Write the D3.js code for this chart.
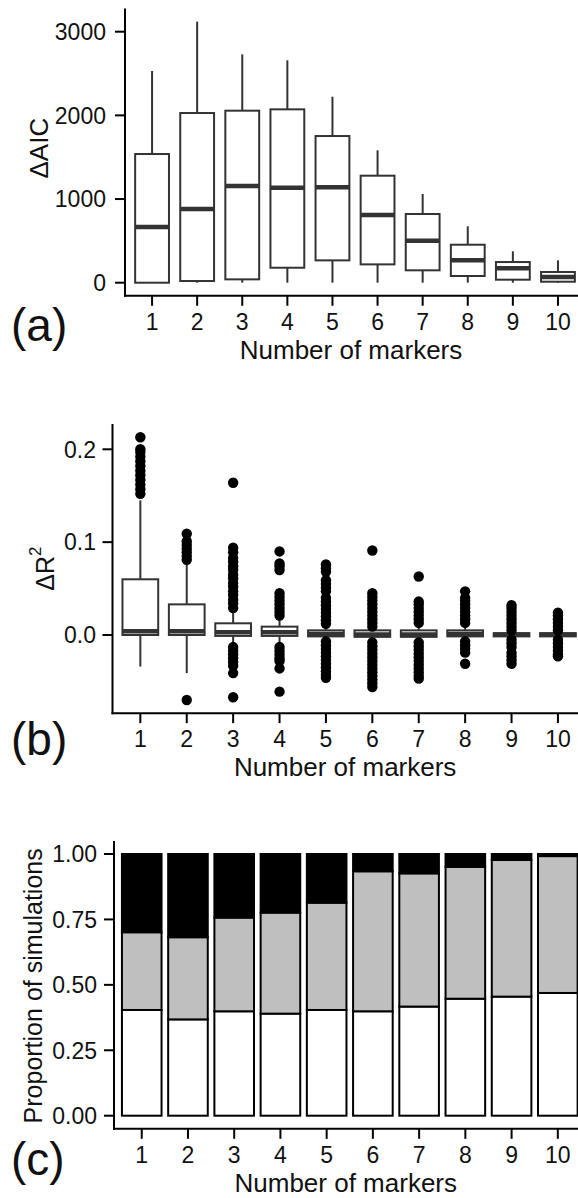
<!DOCTYPE html>
<html>
<head>
<meta charset="utf-8">
<script src="https://cdn.jsdelivr.net/npm/d3@7"></script>
<style>
  html, body { margin: 0; padding: 0; background: #fff; }
  svg { display: block; }
  text { font-family: "Liberation Sans", Arial, Helvetica, sans-serif; fill: #111; }
</style>
</head>
<body>
<svg id="fig" width="578" height="1198"></svg>
<script>
// ---- data ----
const categories = ["1", "2", "3", "4", "5", "6", "7", "8", "9", "10"];

// (a) delta AIC box statistics
const aicLow    = [0, 0, 0, 0, 0, 0, 0, 0, 0, 0];
const aicQ1     = [0, 20, 40, 179, 267, 219, 148, 80, 36, 12];
const aicMedian = [666, 881, 1156, 1135, 1140, 809, 502, 267, 172, 68];
const aicQ3     = [1538, 2028, 2056, 2072, 1753, 1279, 821, 454, 247, 128];
const aicHigh   = [2530, 3120, 2729, 2658, 2223, 1582, 1060, 674, 375, 267];
const aicTicks  = [0, 1000, 2000, 3000];

// (b) delta R^2 box statistics
const r2Low    = [-0.034, -0.041, -0.011, -0.011, -0.006, -0.006, -0.006, -0.005, -0.004, -0.003];
const r2Q1     = [0.000, 0.000, -0.001, -0.001, -0.0015, -0.002, -0.002, -0.0015, -0.0015, -0.0015];
const r2Median = [0.004, 0.004, 0.003, 0.003, 0.001, 0.0005, 0.0005, 0.001, 0.0003, 0.0003];
const r2Q3     = [0.060, 0.033, 0.0126, 0.009, 0.005, 0.005, 0.005, 0.005, 0.002, 0.002];
const r2High   = [0.145, 0.078, 0.027, 0.018, 0.010, 0.008, 0.010, 0.010, 0.004, 0.004];
const r2Outliers = [
  [0.152, 0.157, 0.162, 0.167, 0.172, 0.177, 0.182, 0.187, 0.192, 0.197, 0.200, 0.213],
  [0.081, 0.085, 0.089, 0.093, 0.097, 0.101, 0.109, -0.070],
  [0.029, 0.034, 0.038, 0.043, 0.047, 0.052, 0.056, 0.061, 0.065, 0.070, 0.074, 0.079, 0.083, 0.089, 0.094, 0.164,
   -0.013, -0.017, -0.021, -0.025, -0.029, -0.033, -0.041, -0.067],
  [0.021, 0.025, 0.029, 0.033, 0.037, 0.041, 0.045, 0.070, 0.074, 0.077, 0.090,
   -0.013, -0.017, -0.021, -0.025, -0.028, -0.036, -0.061],
  [0.012, 0.016, 0.020, 0.024, 0.028, 0.032, 0.036, 0.040, 0.047, 0.051, 0.055, 0.059, 0.068, 0.072, 0.076,
   -0.007, -0.011, -0.015, -0.019, -0.023, -0.027, -0.031, -0.035, -0.039, -0.043, -0.046],
  [0.009, 0.013, 0.017, 0.021, 0.025, 0.029, 0.033, 0.037, 0.041, 0.045, 0.091,
   -0.008, -0.012, -0.016, -0.020, -0.024, -0.028, -0.032, -0.036, -0.040, -0.044, -0.048, -0.052, -0.056],
  [0.013, 0.017, 0.021, 0.025, 0.029, 0.033, 0.036, 0.063,
   -0.008, -0.012, -0.016, -0.020, -0.024, -0.028, -0.032, -0.036, -0.040, -0.044, -0.047],
  [0.013, 0.017, 0.021, 0.025, 0.029, 0.033, 0.037, 0.040, 0.047, -0.007, -0.011, -0.015, -0.019, -0.031],
  [0.005, 0.009, 0.013, 0.017, 0.021, 0.025, 0.029, 0.032, -0.005, -0.009, -0.013, -0.019, -0.023, -0.027, -0.031],
  [0.005, 0.009, 0.013, 0.017, 0.021, 0.024, -0.005, -0.009, -0.013, -0.017, -0.021, -0.023]
];
const r2Ticks = [0, 0.1, 0.2];

// (c) proportion of simulations per outcome (bottom, middle, top)
const shareWhite = [0.404, 0.368, 0.399, 0.390, 0.404, 0.399, 0.417, 0.447, 0.455, 0.469];
const shareGrey  = [0.297, 0.314, 0.358, 0.386, 0.410, 0.535, 0.509, 0.504, 0.522, 0.523];
const shareBlack = [0.299, 0.318, 0.243, 0.224, 0.186, 0.066, 0.074, 0.049, 0.023, 0.008];
const propTicks  = [0, 0.25, 0.5, 0.75, 1];

// ---- drawing ----
const svg = d3.select("#fig");
svg.append("rect").attr("width", 578).attr("height", 1198).attr("fill", "#fff");

const INK = "#333";
const TICK_FS = 23, TITLE_FS = 25, XTITLE_FS = 26, TAG_FS = 46;

function bandScale(left, step) {
  return d3.scaleBand().domain(categories)
    .range([left, left + step * 10.2]).paddingInner(0).paddingOuter(0.1);
}

// draws the axis frame (left + bottom lines), ticks, labels
function frame(x, y, top, bottom, ticks, fmt, labelEnd, xTitle) {
  const left = x.range()[0];
  const g = svg.append("g");
  g.append("line").attr("x1", left).attr("x2", left).attr("y1", top).attr("y2", bottom + 1)
    .attr("stroke", "#000").attr("stroke-width", 2);
  g.append("line").attr("x1", left - 1).attr("x2", 600).attr("y1", bottom).attr("y2", bottom)
    .attr("stroke", "#000").attr("stroke-width", 2);
  ticks.forEach(t => {
    g.append("line").attr("x1", left - 10).attr("x2", left).attr("y1", y(t)).attr("y2", y(t))
      .attr("stroke", "#000").attr("stroke-width", 2);
    g.append("text").attr("x", labelEnd).attr("y", y(t)).attr("dy", "0.36em")
      .attr("text-anchor", "end").attr("font-size", TICK_FS).text(fmt(t));
  });
  categories.forEach(c => {
    const cx = x(c) + x.bandwidth() / 2;
    g.append("line").attr("x1", cx).attr("x2", cx).attr("y1", bottom).attr("y2", bottom + 10)
      .attr("stroke", "#000").attr("stroke-width", 2);
    g.append("text").attr("x", cx).attr("y", bottom + 34)
      .attr("text-anchor", "middle").attr("font-size", TICK_FS).text(c);
  });
  g.append("text").attr("x", (left + x.range()[1]) / 2 - 4).attr("y", bottom + 63)
    .attr("text-anchor", "middle").attr("font-size", XTITLE_FS).text(xTitle);
  return g;
}

function boxes(x, y, stats, boxFrac) {
  const g = svg.append("g");
  const w = x.step() * boxFrac;
  stats.forEach(s => {
    const cx = x(s.cat) + x.bandwidth() / 2;
    g.append("line").attr("x1", cx).attr("x2", cx).attr("y1", y(s.q3)).attr("y2", y(s.hi))
      .attr("stroke", INK).attr("stroke-width", 2);
    g.append("line").attr("x1", cx).attr("x2", cx).attr("y1", y(s.q1)).attr("y2", y(s.lo))
      .attr("stroke", INK).attr("stroke-width", 2);
    g.append("rect").attr("x", cx - w / 2).attr("width", w)
      .attr("y", y(s.q3)).attr("height", Math.max(0, y(s.q1) - y(s.q3)))
      .attr("fill", "#fff").attr("stroke", INK).attr("stroke-width", 2);
    g.append("line").attr("x1", cx - w / 2).attr("x2", cx + w / 2)
      .attr("y1", y(s.med)).attr("y2", y(s.med))
      .attr("stroke", INK).attr("stroke-width", 4.5);
    (s.out || []).forEach(v => {
      g.append("circle").attr("cx", cx).attr("cy", y(v)).attr("r", 5.2).attr("fill", "#000");
    });
  });
}

function tag(label, baseline) {
  svg.append("text").attr("x", 11).attr("y", baseline).attr("font-size", TAG_FS).text(label);
}

// ---------- (a) ----------
{
  const x = bandScale(125, 45.1);
  const y = d3.scaleLinear().domain([0, 3000]).range([282.7, 31.7]);
  const top = y(3120 + 0.05 * 3120), bottom = y(-0.05 * 3120);
  frame(x, y, top, bottom, aicTicks, d3.format("d"), 106, "Number of markers");
  const stats = categories.map((c, i) => ({cat: c, lo: aicLow[i], q1: aicQ1[i], med: aicMedian[i], q3: aicQ3[i], hi: aicHigh[i]}));
  boxes(x, y, stats, 0.75);
  svg.append("text").attr("transform", `translate(48,${(top + bottom) / 2 - 4}) rotate(-90)`)
    .attr("text-anchor", "middle").attr("font-size", TITLE_FS + 1).text("\u0394AIC");
  tag("(a)", 341);
}

// ---------- (b) ----------
{
  const x = bandScale(112.5, 46.4);
  const y = d3.scaleLinear().domain([0, 0.2]).range([635, 449.3]);
  const all = r2Outliers.flat().concat(r2Low, r2High);
  const lo = d3.min(all), hi = d3.max(all), pad = (hi - lo) * 0.05;
  const top = y(hi + pad), bottom = y(lo - pad);
  frame(x, y, top, bottom, r2Ticks, d3.format(".1f"), 96, "Number of markers");
  const stats = categories.map((c, i) => ({cat: c, lo: r2Low[i], q1: r2Q1[i], med: r2Median[i], q3: r2Q3[i], hi: r2High[i], out: r2Outliers[i]}));
  boxes(x, y, stats, 0.77);
  const t = svg.append("text").attr("transform", `translate(54,${(top + bottom) / 2}) rotate(-90)`)
    .attr("text-anchor", "middle").attr("font-size", TITLE_FS);
  t.append("tspan").text("\u0394R");
  t.append("tspan").attr("font-size", 17).attr("dy", -13).text("2");
  tag("(b)", 755);
}

// ---------- (c) ----------
{
  const x = bandScale(114, 46.23);
  const y = d3.scaleLinear().domain([0, 1]).range([1115.7, 854]);
  const top = y(1.05), bottom = y(-0.05);
  frame(x, y, top, bottom, propTicks, d3.format(".2f"), 97, "Number of markers");
  const rows = categories.map((c, i) => ({cat: c, white: shareWhite[i], grey: shareGrey[i], black: shareBlack[i]}));
  const keys = ["white", "grey", "black"];
  const fills = {white: "#ffffff", grey: "#bfbfbf", black: "#000000"};
  const series = d3.stack().keys(keys)(rows);
  const bw = x.step() * 0.9;
  series.forEach(s => {
    svg.append("g").selectAll("rect").data(s).join("rect")
      .attr("x", d => x(d.data.cat) + x.bandwidth() / 2 - bw / 2 + 1)
      .attr("width", bw - 2)
      .attr("y", d => y(d[1]))
      .attr("height", d => y(d[0]) - y(d[1]))
      .attr("fill", fills[s.key]).attr("stroke", "#000").attr("stroke-width", 2);
  });
  svg.append("text").attr("transform", `translate(42,${(top + bottom) / 2 + 1}) rotate(-90)`)
    .attr("text-anchor", "middle").attr("font-size", TITLE_FS).text("Proportion of simulations");
  tag("(c)", 1175);
}
</script>
</body>
</html>
